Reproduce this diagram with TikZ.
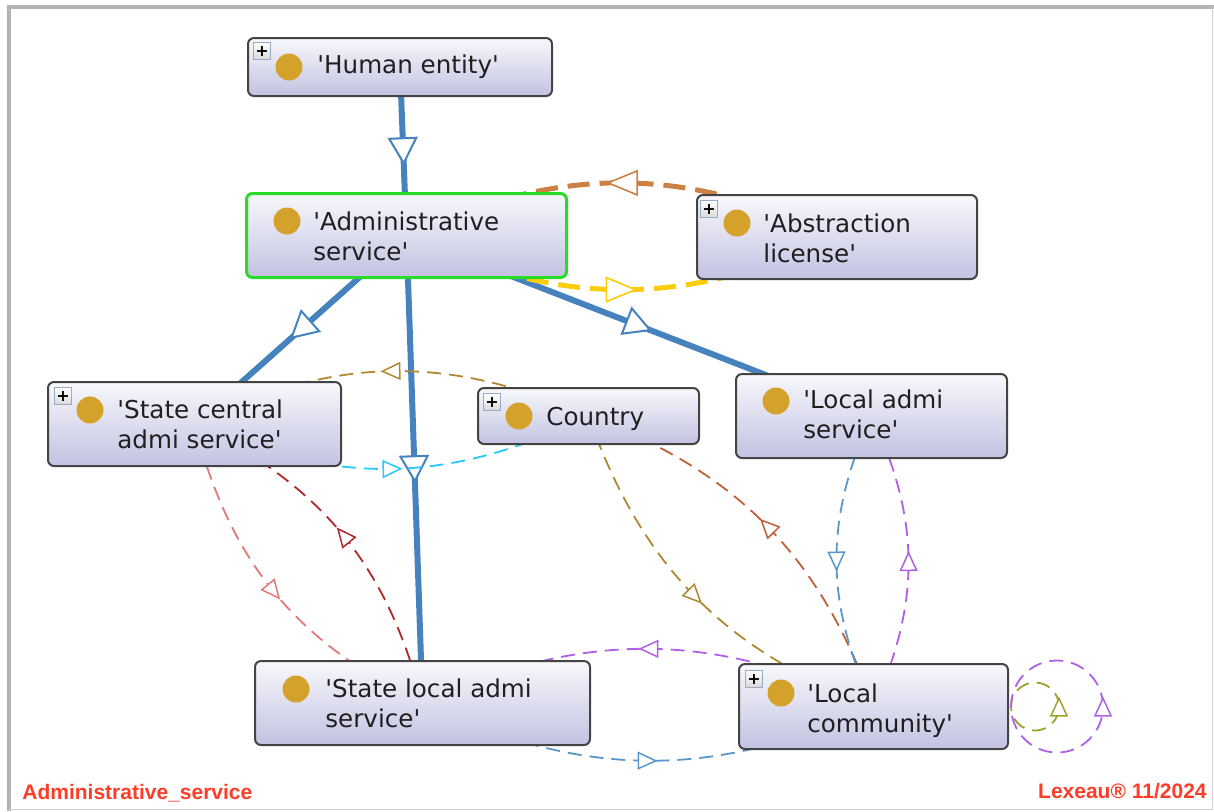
\documentclass[tikz,border=0pt]{standalone}
\usepackage{fontspec}
\setmainfont{DejaVu Sans}
\newfontfamily\footfont{Liberation Sans}
\usepackage{tikz}
\usetikzlibrary{arrows.meta, decorations.markings, backgrounds}

\definecolor{isablue}{RGB}{70,130,190}
\definecolor{boxedge}{RGB}{68,68,68}
\definecolor{boxtop}{RGB}{248,248,252}
\definecolor{boxbottom}{RGB}{194,194,226}
\definecolor{selgreen}{RGB}{40,220,40}
\definecolor{dotgold}{RGB}{212,162,42}
\definecolor{plusedge}{RGB}{150,172,196}
\definecolor{licorange}{RGB}{204,128,66}
\definecolor{licyellow}{RGB}{250,204,10}
\definecolor{ctygold}{RGB}{176,136,48}
\definecolor{ctycyan}{RGB}{40,200,250}
\definecolor{palered}{RGB}{226,120,120}
\definecolor{darkred}{RGB}{176,40,40}
\definecolor{rustbrown}{RGB}{192,96,56}
\definecolor{dashblue}{RGB}{90,150,200}
\definecolor{lcmviolet}{RGB}{176,96,232}
\definecolor{loopolive}{RGB}{160,160,48}
\definecolor{footred}{RGB}{255,60,40}
\definecolor{framegray}{RGB}{180,180,180}

\tikzset{
  isatip/.tip={Triangle[fill=white, length=14pt, width=15pt, line width=1pt]},
  bigtip/.tip={Triangle[fill=white, length=16pt, width=13pt, line width=0.8pt]},
  smalltip/.tip={Triangle[fill=white, length=10pt, width=9pt, line width=0.75pt]},
  midtip/.style n args={3}{postaction={decorate, decoration={markings,
      mark=at position #1 with {\pgfsetdash{}{0pt}\pgftransformxshift{#3}\arrow{#2}}}}},
  isa/.style={isablue, line width=3pt, midtip={0.5}{isatip}{7pt}},
  thickdash/.style={line width=2.5pt, dash pattern=on 11pt off 5pt, midtip={0.5}{bigtip}{8pt}},
  thinline/.style={line width=0.9pt, dash pattern=on 7pt off 4pt},
  thindash/.style={thinline, midtip={0.5}{smalltip}{5pt}},
  box/.style={draw=boxedge, line width=1pt, rounded corners=3pt, top color=boxtop,
    bottom color=boxbottom, anchor=north west, inner sep=0pt},
  dot/.style={circle, fill=dotgold, minimum size=13.5pt, inner sep=0pt},
  plus/.style={draw=plusedge, line width=0.6pt, top color=white, bottom color=gray!30,
    minimum size=8.5pt, inner sep=0pt, font=\fontsize{8}{8}\selectfont\bfseries},
  lbl/.style={font=\fontsize{12.3}{15}\selectfont, text=black!88, align=left,
    anchor=base west, inner sep=0pt},
  foot/.style={text=footred, font=\footfont\bfseries\fontsize{10.5}{12}\selectfont,
    inner sep=0pt, anchor=base west},
}

\begin{document}
\begin{tikzpicture}[x=0.5pt, y=-0.5pt]
\useasboundingbox (0,0) rectangle (1214,811);
% frame
\draw[framegray, line width=2pt] (9,811) -- (9,7) -- (1214,7);
\draw[framegray!60, line width=0.5pt] (1212,7) -- (1212,809) -- (9,809);

% classes
\node[box, minimum width=152pt, minimum height=29pt] (hum) at (247,37) {};
\node[box, draw=selgreen, line width=1.5pt, minimum width=160pt, minimum height=42pt] (adm) at (245,192) {};
\node[box, minimum width=140pt, minimum height=42pt] (abs) at (696,194) {};
\node[box, minimum width=146.5pt, minimum height=42pt] (stc) at (47,381) {};
\node[box, minimum width=110.5pt, minimum height=28pt] (cty) at (477,387) {};
\node[box, minimum width=135.5pt, minimum height=42pt] (lad) at (735,373) {};
\node[box, minimum width=167.5pt, minimum height=42pt] (stl) at (254,660) {};
\node[box, minimum width=134.5pt, minimum height=42.5pt] (lcm) at (738,663) {};

% expand icons
\node[plus] (hum-p) at (262,51) {+};
\node[plus] (abs-p) at (709,209) {+};
\node[plus] (stc-p) at (63,396) {+};
\node[plus] (cty-p) at (492,402) {+};
\node[plus] (lcm-p) at (754,679) {+};

% class dots
\node[dot] (hum-d) at (289,67) {};
\node[dot] (adm-d) at (287,221) {};
\node[dot] (abs-d) at (737,223) {};
\node[dot] (stc-d) at (90,410) {};
\node[dot] (cty-d) at (519,416) {};
\node[dot] (lad-d) at (776,401) {};
\node[dot] (stl-d) at (296,689) {};
\node[dot] (lcm-d) at (781,693) {};

% labels (base = last line)
\node[lbl] (hum-t) at (317,73) {\textquotesingle Human entity\textquotesingle};
\node[lbl] (adm-t) at (313,260) {\textquotesingle Administrative\\service\textquotesingle};
\node[lbl] (abs-t) at (763,262) {\textquotesingle Abstraction\\license\textquotesingle};
\node[lbl] (stc-t) at (117,448) {\textquotesingle State central\\admi service\textquotesingle};
\node[lbl] (cty-t) at (546,425) {Country};
\node[lbl] (lad-t) at (803,438) {\textquotesingle Local admi\\service\textquotesingle};
\node[lbl] (stl-t) at (325,727) {\textquotesingle State local admi\\service\textquotesingle};
\node[lbl] (lcm-t) at (807,732) {\textquotesingle Local\\community\textquotesingle};

% footer
\node[foot] (fname) at (22,799) {Administrative\_service};
\node[foot, anchor=base east] (fcopy) at (1207,798) {Lexeau® 11/2024};

\begin{scope}[on background layer]
  % subclass links
  \draw[isa] (hum.center) -- (adm.center);
  \draw[isa] (adm.center) -- (stc.center);
  \draw[isa] (adm.center) -- (stl.center);
  \draw[isa] (adm.center) -- (lad.center);
  % object properties
  \draw[thickdash, licorange] (abs.center) to[bend right=25] (adm.center);
  \draw[thickdash, licyellow] (adm.center) to[bend right=25] (abs.center);
  \draw[thindash, ctygold] (cty.center) to[bend right=25] (stc.center);
  \draw[thindash, ctycyan] (stc.center) to[bend right=25] (cty.center);
  \draw[thindash, palered] (stc.center) to[bend right=25] (stl.center);
  \draw[thindash, darkred] (stl.center) to[bend right=25] (stc.center);
  \draw[thindash, ctygold] (cty.center) to[bend right=25] (lcm.center);
  \draw[thindash, rustbrown] (lcm.center) to[bend right=25] (cty.center);
  \draw[thindash, dashblue] (lad.center) to[bend right=25] (lcm.center);
  \draw[thindash, lcmviolet] (lcm.center) to[bend right=25] (lad.center);
  \draw[thindash, lcmviolet] (lcm.center) to[bend right=25] (stl.center);
  \draw[thindash, dashblue] (stl.center) to[bend right=25] (lcm.center);
  % self links
  \draw[thinline, loopolive, midtip={0.0}{smalltip}{5pt}] ([xshift=13pt]lcm.east) circle[radius=12pt];
  \draw[thinline, lcmviolet, midtip={0.0}{smalltip}{5pt}] ([xshift=24pt]lcm.east) circle[radius=23pt];
\end{scope}
\end{tikzpicture}
\end{document}
